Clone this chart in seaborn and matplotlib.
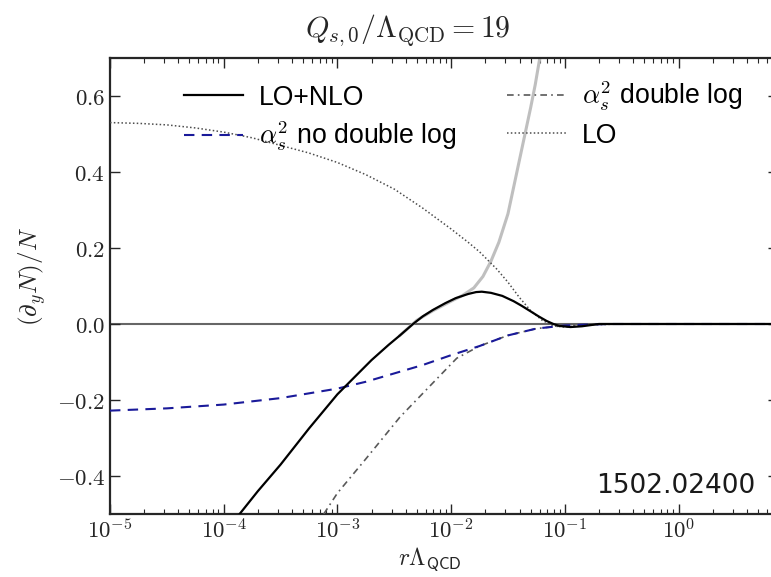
import numpy as np
import pandas as pd
import matplotlib
matplotlib.use("Agg")
import matplotlib.pyplot as plt
import seaborn as sns
from matplotlib.lines import Line2D
from matplotlib.ticker import FuncFormatter, LogLocator, FixedLocator

# curves, x as log10(r Lambda_QCD)
logr_lo = [-5, -4.75, -4.5, -4.25, -4, -3.75, -3.5, -3.25, -3, -2.75, -2.5, -2.25, -2, -1.85, -1.75, -1.6,
           -1.5, -1.4, -1.3, -1.2, -1.1, -1.0, -0.9, -0.75, -0.5, 0, 0.5, 0.9]
y_lo = [0.53, 0.528, 0.524, 0.516, 0.505, 0.49, 0.47, 0.45, 0.425, 0.393, 0.355, 0.305, 0.25, 0.215, 0.19, 0.145,
        0.11, 0.07, 0.035, 0.01, -0.005, -0.008, -0.005, -0.002, 0, 0, 0, 0]

logr_nlo = [-3.86, -3.7, -3.5, -3.25, -3.0, -2.85, -2.7, -2.55, -2.45, -2.335, -2.25, -2.16, -2.05, -1.96, -1.85,
            -1.78, -1.73, -1.65, -1.55, -1.45, -1.38, -1.31, -1.23, -1.16, -1.1, -1.05, -0.95, -0.85, -0.7, 0, 0.9]
y_nlo = [-0.5, -0.44, -0.37, -0.275, -0.185, -0.14, -0.095, -0.055, -0.03, 0.0, 0.02, 0.037, 0.055, 0.068, 0.079,
         0.084, 0.085, 0.082, 0.074, 0.06, 0.048, 0.035, 0.02, 0.008, 0.0, -0.005, -0.008, -0.006, 0, 0, 0]

logr_gray = [-2.45, -2.3, -2.16, -2.0, -1.9, -1.8, -1.72, -1.65, -1.58, -1.5, -1.45, -1.4, -1.35, -1.3, -1.26, -1.22]
y_gray = [-0.03, 0.01, 0.035, 0.06, 0.075, 0.095, 0.125, 0.165, 0.215, 0.29, 0.36, 0.43, 0.5, 0.57, 0.63, 0.7]

logr_nodl = [-5, -4.5, -4, -3.5, -3, -2.75, -2.5, -2.25, -2, -1.75, -1.5, -1.25, -1, -0.85, -0.6, 0, 0.9]
y_nodl = [-0.228, -0.222, -0.212, -0.195, -0.17, -0.152, -0.13, -0.108, -0.082, -0.058, -0.03, -0.012, -0.004,
          -0.002, 0, 0, 0]

logr_dl = [-3.12, -3.0, -2.75, -2.45, -2.16, -1.95, -1.75, -1.5, -1.25, -1.0, -0.75, 0, 0.9]
y_dl = [-0.5, -0.445, -0.355, -0.245, -0.155, -0.09, -0.058, -0.03, -0.012, -0.004, 0, 0, 0]

legend_labels = ["LO+NLO", r"$\alpha_s^2$ no double log", r"$\alpha_s^2$ double log", "LO"]

plt.rcParams["mathtext.fontset"] = "cm"
plt.rcParams["font.family"] = ["Liberation Sans", "DejaVu Sans"]

fig = plt.figure(figsize=(7.71, 5.77), dpi=100)
ax = fig.add_axes([110 / 771, 1 - 514 / 577, (778 - 110) / 771, (514 - 58) / 577])

ax.axhline(0, color="0.4", lw=1.5, zorder=1)

def draw(logr, y, **kw):
    d = pd.DataFrame({"r": np.power(10.0, logr), "y": y})
    sns.lineplot(data=d, x="r", y="y", ax=ax, estimator=None, sort=False, **kw)

draw(logr_gray, y_gray, color="0.75", lw=2.2, zorder=2)
draw(logr_lo, y_lo, color="0.3", lw=1.1, linestyle=(0, (1, 1.5)), zorder=3)
draw(logr_dl, y_dl, color="0.35", lw=1.2, linestyle=(0, (4, 2.5, 1, 2.5)), zorder=3)
draw(logr_nodl, y_nodl, color="#1a1a9a", lw=1.5, linestyle=(0, (5, 3.5)), zorder=4)
draw(logr_nlo, y_nlo, color="black", lw=1.6, zorder=5)

ax.set_xscale("log")
ax.set_xlim(1e-5, 10 ** 0.875)
ax.set_ylim(-0.5, 0.7)
ax.yaxis.set_major_locator(FixedLocator([-0.4, -0.2, 0.0, 0.2, 0.4, 0.6]))
ax.yaxis.set_major_formatter(FuncFormatter(lambda v, p: r"$%.1f$" % v))
ax.xaxis.set_major_locator(LogLocator(base=10, numticks=20))
ax.xaxis.set_minor_locator(LogLocator(base=10, subs=np.arange(2, 10), numticks=20))
ax.xaxis.set_major_formatter(FuncFormatter(lambda v, p: r"$10^{%d}$" % round(np.log10(v))))
ax.tick_params(which="both", direction="in", top=True, right=True, labelsize=16.5, colors="0.15")
ax.tick_params(which="major", length=7, width=1)
ax.tick_params(which="minor", length=3.5, width=0.8)
for s in ax.spines.values():
    s.set_linewidth(1.6)
    s.set_color("0.15")

ax.set_xlabel(r"$r\Lambda_{\mathsf{QCD}}$", fontsize=17, color="0.15")
ax.xaxis.set_label_coords((430 - 110) / 668, -0.068)
ax.set_ylabel(r"$(\partial_y N)/N$", fontsize=18, color="0.15")
ax.yaxis.set_label_coords(-0.093, 0.52)

fig.text(408 / 771, 1 - 30 / 577, r"$Q_{s,0}/\Lambda_{\rm QCD} = 19$", fontsize=21.5,
         ha="center", va="center", color="0.15")

handles = [
    Line2D([], [], color="black", lw=1.6),
    Line2D([], [], color="#1a1a9a", lw=1.5, linestyle=(0, (5, 3.5))),
    Line2D([], [], color="0.35", lw=1.2, linestyle=(0, (4, 2.5, 1, 2.5))),
    Line2D([], [], color="0.3", lw=1.1, linestyle=(0, (1, 1.5))),
]
ax.legend(handles, legend_labels, ncol=2, frameon=False, fontsize=19.2,
          loc="upper left", bbox_to_anchor=(0.075, 1.005), handlelength=2.2,
          columnspacing=1.9, labelspacing=0.35, handletextpad=0.6)

fig.text(755 / 771, 1 - 493 / 577, "1502.02400", fontsize=19, family="DejaVu Sans",
         ha="right", va="baseline", color="0.1")

fig.savefig("out.png", dpi=100)
